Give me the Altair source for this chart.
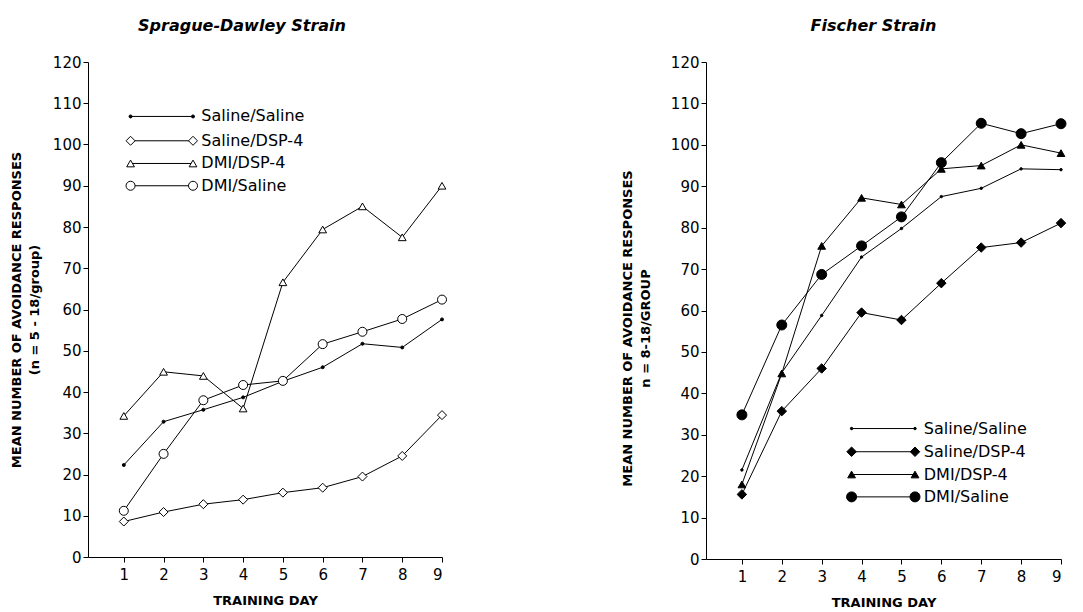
import altair as alt
import pandas as pd

days = [1, 2, 3, 4, 5, 6, 7, 8, 9]
series = ["Saline/Saline", "Saline/DSP-4", "DMI/DSP-4", "DMI/Saline"]
y_ticks = [0, 10, 20, 30, 40, 50, 60, 70, 80, 90, 100, 110, 120]

# Sprague-Dawley strain
sd_saline_saline = [22.3, 32.8, 35.7, 38.7, 42.6, 46.0, 51.7, 50.8, 57.6]
sd_saline_dsp4 = [8.6, 10.9, 12.8, 13.9, 15.6, 16.8, 19.5, 24.5, 34.4]
sd_dmi_dsp4 = [34.2, 44.9, 43.9, 36.0, 66.6, 79.4, 85.0, 77.5, 90.0]
sd_dmi_saline = [11.2, 25.0, 38.0, 41.7, 42.7, 51.6, 54.6, 57.7, 62.4]

# Fischer strain
f_saline_saline = [21.5, 45.0, 58.8, 72.9, 79.8, 87.5, 89.5, 94.2, 94.0]
f_saline_dsp4 = [15.6, 35.7, 46.0, 59.5, 57.7, 66.6, 75.2, 76.4, 81.1]
f_dmi_dsp4 = [18.0, 44.8, 75.6, 87.2, 85.6, 94.2, 95.0, 100.0, 98.0]
f_dmi_saline = [34.8, 56.5, 68.7, 75.6, 82.6, 95.7, 105.2, 102.7, 105.1]

FONT = "DejaVu Sans"


def x_enc(field):
    return alt.X(
        field + ":Q",
        scale=alt.Scale(domain=[0.1, 9], nice=False, zero=False),
        axis=alt.Axis(values=days, title="TRAINING DAY", labelPadding=5,
                      titlePadding=12, format="d"),
    )


def y_enc(field, ytitle, title_pad, title_y=None):
    kw = {}
    if title_y is not None:
        kw["titleY"] = title_y
    return alt.Y(
        field + ":Q",
        scale=alt.Scale(domain=[0, 120], nice=False),
        axis=alt.Axis(values=y_ticks, title=ytitle, labelPadding=2,
                      titlePadding=title_pad, titleLineHeight=18, **kw),
    )


def panel(title, values, styles, ytitle, leg, width, height, title_dx,
          title_pad, title_y=None):
    rows = []
    for s, vals in zip(series, values):
        for d, v in zip(days, vals):
            rows.append({"series": s, "day": d, "value": v})
    df = pd.DataFrame(rows)
    base = alt.Chart(df)

    def ye(field):
        return y_enc(field, ytitle, title_pad, title_y)

    layers = [
        base.mark_line(color="black", strokeWidth=1).encode(
            x=x_enc("day"), y=ye("value"), detail="series:N")
    ]
    lx0, lx1, lxt, ly = leg
    leg_df = pd.DataFrame({"series": series, "x0": [lx0] * 4,
                           "x1": [lx1] * 4, "xt": [lxt] * 4, "y": ly})
    layers.append(
        alt.Chart(leg_df).mark_rule(color="black", strokeWidth=1).encode(
            x=x_enc("x0"), x2="x1:Q", y=ye("y")))
    for s, (shape, size, fill) in zip(series, styles):
        layers.append(
            base.transform_filter(alt.datum.series == s).mark_point(
                shape=shape, size=size, filled=True, fill=fill,
                stroke="black", strokeWidth=1, opacity=1).encode(
                x=x_enc("day"), y=ye("value")))
        layers.append(
            alt.Chart(leg_df).transform_filter(alt.datum.series == s)
            .transform_fold(["x0", "x1"], as_=["end", "lx"])
            .mark_point(shape=shape, size=size, filled=True, fill=fill,
                        stroke="black", strokeWidth=1, opacity=1)
            .encode(x=x_enc("lx"), y=ye("y")))
    layers.append(
        alt.Chart(leg_df).mark_text(align="left", baseline="middle",
                                    font=FONT, fontSize=16, color="black")
        .encode(x=x_enc("xt"), y=ye("y"), text="series:N"))
    return alt.layer(*layers).properties(
        width=width, height=height,
        title=alt.TitleParams(title, font=FONT, fontSize=16,
                              fontWeight="bold", fontStyle="italic",
                              dx=title_dx, offset=21, color="black"),
    )


open_styles = [("circle", 9, "black"), ("diamond", 81, "white"),
               ("triangle-up", 60, "white"), ("circle", 81, "white")]
filled_styles = [("circle", 6, "black"), ("diamond", 90, "black"),
                 ("triangle-up", 60, "black"), ("circle", 100, "black")]

left = panel("Sprague-Dawley Strain",
             [sd_saline_saline, sd_saline_dsp4, sd_dmi_dsp4, sd_dmi_saline],
             open_styles,
             ["MEAN NUMBER OF AVOIDANCE RESPONSES", "(n = 5 - 18/group)"],
             (1.17, 2.74, 2.95, [106.8, 100.9, 95.4, 90.0]),
             354, 495, -23, 11)

right = panel("Fischer Strain",
              [f_saline_saline, f_saline_dsp4, f_dmi_dsp4, f_dmi_saline],
              filled_styles,
              ["MEAN NUMBER OF AVOIDANCE RESPONSES", "n = 8-18/GROUP"],
              (3.75, 5.34, 5.56, [31.5, 25.9, 20.4, 15.0]),
              355, 497, -10, 18, title_y=266)

chart = alt.hconcat(left, right, spacing=264, bounds="flush").properties(
    padding={"left": 2, "top": 10, "right": 0, "bottom": 0}
).configure_view(stroke=None).configure_axis(
    grid=False, domainColor="black", tickColor="black", labelColor="black",
    titleColor="black", labelFont=FONT, labelFontSize=15, titleFont=FONT,
    titleFontSize=13, titleFontWeight="bold", tickSize=5, domainWidth=1,
    tickWidth=1,
)

chart.save("out.html", embed_options={"renderer": "svg", "actions": False})
